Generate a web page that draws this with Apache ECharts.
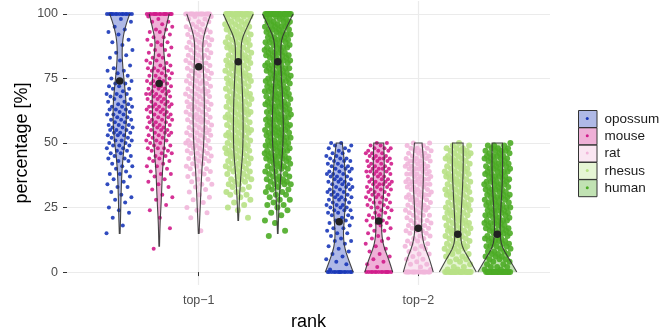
<!DOCTYPE html>
<html>
<head>
<meta charset="utf-8">
<script src="https://cdn.jsdelivr.net/npm/echarts@6/dist/echarts.min.js"></script>
<style>
  html, body { margin: 0; padding: 0; background: #fff; }
  #chart { width: 669px; height: 333px; }
</style>
</head>
<body>
<div id="chart"></div>
<script>
const ranks = ['top−1', 'top−2'];
const species = ['opossum', 'mouse', 'rat', 'rhesus', 'human'];
const yTicks = [0, 25, 50, 75, 100];

// mean percentage per species (the big dark dots)
const meanTop1 = [74, 73, 79.5, 81.5, 81.5];
const meanTop2 = [19.5, 19.8, 17, 14.7, 14.7];

// violin half-widths (density), read every 5 %; null = outside the data range
const levelsTop1 = [0, 5, 10, 15, 20, 25, 30, 35, 40, 45, 50, 55, 60, 65, 70, 75, 80, 85, 90, 95, 100];
const violinOpossum1 = [null, null, null, 0.4, 0.8, 1.1, 1.4, 1.8, 2.4, 3.5, 5, 6.2, 6.7, 6.5, 5.5, 4.2, 3, 2.3, 3, 5.5, 10];
const violinMouse1 = [null, null, 0.3, 0.6, 1, 1.7, 2.3, 2.8, 3.4, 4.5, 5.3, 6, 6.6, 7, 7, 6.8, 6, 4.6, 4, 7, 10];
const violinRat1 = [null, null, null, 0.4, 0.9, 1.5, 2, 2.6, 3.2, 4.2, 5, 5.5, 5.6, 5.6, 5.4, 5, 4.5, 4, 4.2, 7.5, 12];
const violinRhesus1 = [null, null, null, null, 0.3, 0.8, 1.4, 2.2, 3.1, 4.2, 4.7, 4.9, 4.8, 4.6, 4.1, 3.6, 3, 2.7, 3.3, 9, 15];
const violinHuman1 = [null, null, null, 0.3, 0.7, 1.2, 1.8, 2.6, 3.4, 4.4, 5.2, 5.6, 5.4, 5, 4.5, 3.7, 3.1, 3, 3.4, 9, 15.3];

const levelsTop2 = [0, 5, 10, 15, 20, 25, 30, 35, 40, 45, 50];
const violinOpossum2 = [14, 9, 5, 4, 5, 5.8, 6.5, 6.5, 5.8, 4.5, 3];
const violinMouse2 = [14, 10, 4.8, 2.8, 3, 3.8, 4.7, 5.4, 5.5, 5.4, 5];
const violinRat2 = [15, 11.5, 6, 3.6, 3.3, 3.8, 4.5, 5, 5.2, 5, 3.8];
const violinRhesus2 = [18.5, 11.5, 3.8, 2.7, 3, 3.7, 4.4, 5, 5.4, 5.5, 5.3];
const violinHuman2 = [19.5, 12, 4.2, 2.7, 3, 3.6, 4.4, 5, 5.3, 5.3, 5.2];

// individual percentages (estimated from the jittered clouds)
const opossumTop1 = [15,18,21,23,24,25,27,28,29,30,31,33,33,34,35,36,37,38,38,39,40,41,41,42,43,43,44,44,45,45,46,46,47,47,48,48,49,49,49,50,50,51,51,51,52,52,53,53,53,54,54,54,55,55,55,56,56,56,57,57,57,58,58,59,59,59,60,60,61,61,61,62,62,63,63,63,64,64,64,65,65,66,66,67,67,68,68,69,69,69,70,71,71,72,72,73,73,74,74,75,76,77,78,78,79,80,82,83,84,85,86,88,89,90,92,93,94,95,97,98,100,100,100,100,100,100,100,100,100,100,100,100,100,100];
const mouseTop1 = [9,17,21,24,26,28,29,30,32,33,34,35,36,37,38,38,39,40,41,41,42,43,43,44,44,45,45,46,46,47,47,48,48,48,49,49,50,50,51,51,51,52,52,53,53,53,54,54,54,55,55,55,56,56,56,57,57,57,58,58,58,59,59,59,60,60,60,61,61,61,62,62,62,63,63,63,64,64,64,64,65,65,65,66,66,66,67,67,67,68,68,68,69,69,69,69,70,70,70,71,71,71,72,72,72,73,73,73,74,74,74,75,75,76,76,76,77,77,78,78,78,79,79,79,80,80,81,81,82,82,83,83,84,84,85,86,86,87,88,88,89,89,90,91,91,92,93,93,94,94,95,96,97,97,98,99,100,100,100,100,100,100,100,100,100,100,100,100,100,100,100,100];
const ratTop1 = [16,21,23,24,25,27,28,29,30,31,32,33,34,34,35,36,36,37,38,38,39,39,40,40,41,41,42,42,43,43,44,44,44,45,45,46,46,46,47,47,48,48,48,49,49,49,50,50,50,51,51,51,52,52,53,53,53,54,54,54,55,55,55,56,56,56,57,57,58,58,58,59,59,59,60,60,60,61,61,61,62,62,63,63,63,64,64,64,65,65,65,66,66,66,67,67,68,68,68,69,69,69,70,70,70,71,71,71,72,72,73,73,73,74,74,74,75,75,76,76,76,77,77,78,78,78,79,79,79,80,80,81,81,81,82,82,83,83,83,84,84,84,85,85,86,86,86,87,87,88,88,88,89,89,89,90,90,91,91,91,92,92,93,93,93,94,94,94,95,95,96,96,97,97,98,98,99,99,100,100,100,100,100,100,100,100,100,100,100,100,100,100,100,100];
const rhesusTop1 = [21,24,25,26,27,28,29,30,30,31,31,32,33,33,34,34,35,35,36,36,36,37,37,38,38,39,39,39,40,40,40,41,41,42,42,42,43,43,44,44,44,45,45,45,46,46,46,47,47,47,48,48,48,49,49,49,50,50,50,51,51,51,52,52,52,53,53,53,54,54,54,55,55,55,56,56,56,57,57,57,58,58,58,59,59,59,60,60,60,61,61,61,62,62,62,63,63,63,64,64,64,65,65,65,66,66,66,67,67,67,68,68,68,69,69,69,70,70,70,71,71,71,72,72,72,73,73,73,74,74,74,75,75,75,76,76,76,77,77,77,78,78,78,79,79,79,80,80,80,81,81,81,82,82,82,83,83,83,84,84,84,85,85,85,86,86,86,87,87,87,88,88,88,89,89,89,90,90,90,91,91,91,92,92,92,93,93,93,94,94,94,95,95,95,96,96,96,97,97,97,98,98,99,99,99,100,100,100,100,100,100,100,100,100,100,100,100,100,100,100,100,100,100];
const humanTop1 = [14,16,19,20,22,23,24,25,26,26,27,28,28,29,30,30,31,31,32,32,33,33,34,34,34,35,35,35,36,36,36,37,37,37,38,38,39,39,40,40,40,41,41,41,42,42,42,43,43,43,44,44,44,44,45,45,45,45,46,46,46,47,47,47,47,48,48,48,49,49,49,49,50,50,50,50,51,51,51,52,52,52,52,53,53,53,54,54,54,54,55,55,55,55,56,56,56,57,57,57,57,58,58,58,59,59,59,59,60,60,60,60,61,61,61,62,62,62,62,63,63,63,64,64,64,64,65,65,65,65,66,66,66,67,67,67,67,68,68,68,69,69,69,69,70,70,70,70,71,71,71,72,72,72,72,73,73,73,74,74,74,74,75,75,75,75,76,76,76,77,77,77,77,78,78,78,79,79,79,79,80,80,80,80,81,81,81,82,82,82,82,83,83,83,84,84,84,84,85,85,85,85,86,86,86,87,87,87,87,88,88,88,89,89,89,89,90,90,90,90,91,91,91,92,92,92,92,93,93,93,94,94,94,94,95,95,95,95,96,96,96,97,97,97,97,98,98,98,99,99,99,100,100,100,100,100,100,100,100,100,100,100,100,100,100,100,100,100,100,100,100];

const opossumTop2 = [0,0,0,0,0,0,0,0,0,0,0,0,0,0,1,3,4,5,6,7,8,9,10,11,12,12,13,14,15,15,16,17,17,18,19,19,20,20,21,21,22,22,23,23,24,24,24,25,25,25,26,26,26,27,27,28,28,28,29,29,29,30,30,30,31,31,31,32,32,32,33,33,33,34,34,34,35,35,35,36,36,36,37,37,37,38,38,38,39,39,39,40,40,40,41,41,41,42,42,43,43,43,44,44,44,45,45,46,46,47,47,48,48,49,49,50,50];
const mouseTop2 = [0,0,0,0,0,0,0,0,0,0,0,0,0,0,2,3,4,5,6,7,8,9,10,11,12,13,13,14,15,16,16,17,18,18,19,19,20,20,21,21,22,22,23,23,24,24,25,25,25,26,26,27,27,27,28,28,29,29,29,30,30,30,31,31,31,32,32,32,33,33,33,34,34,34,34,35,35,35,35,36,36,36,37,37,37,38,38,38,39,39,39,39,40,40,40,40,41,41,41,42,42,42,43,43,43,44,44,44,44,45,45,45,46,46,46,47,47,47,48,48,48,49,49,50,50];
const ratTop2 = [0,0,0,0,0,0,0,0,0,0,0,0,0,0,0,0,1,2,3,3,4,5,5,6,7,7,8,9,9,10,10,11,11,12,12,13,13,14,14,15,15,16,16,16,17,17,18,18,18,19,19,20,20,20,21,21,22,22,22,23,23,24,24,24,25,25,25,26,26,26,27,27,27,28,28,28,29,29,29,30,30,30,30,31,31,31,32,32,32,33,33,33,34,34,34,34,35,35,35,35,36,36,36,36,37,37,37,38,38,38,38,39,39,39,40,40,40,40,41,41,41,41,42,42,42,43,43,43,43,44,44,44,45,45,45,46,46,46,47,47,47,48,48,48,49,49,50,50];
const rhesusTop2 = [0,0,0,0,0,0,0,0,0,0,0,0,0,0,0,0,0,0,1,1,2,2,3,4,4,5,5,6,6,7,7,8,8,9,9,9,10,10,10,11,11,11,12,12,13,13,13,14,14,14,15,15,15,16,16,16,17,17,17,18,18,18,19,19,19,20,20,20,21,21,21,22,22,22,23,23,23,24,24,24,25,25,25,26,26,26,27,27,27,28,28,28,29,29,29,30,30,30,31,31,31,32,32,32,33,33,33,34,34,34,35,35,35,36,36,36,37,37,37,38,38,38,39,39,39,40,40,40,41,41,41,42,42,42,43,43,43,44,44,44,45,45,45,46,46,46,47,47,47,48,48,48,49,49,50];
const humanTop2 = [0,0,0,0,0,0,0,0,0,0,0,0,0,0,0,0,0,0,0,0,1,1,2,2,2,3,3,4,4,5,5,5,6,6,6,7,7,7,8,8,8,9,9,10,10,10,10,11,11,11,12,12,12,12,13,13,13,14,14,14,15,15,15,15,16,16,16,17,17,17,17,18,18,18,19,19,19,19,20,20,20,20,21,21,21,22,22,22,22,23,23,23,24,24,24,24,25,25,25,25,26,26,26,27,27,27,27,28,28,28,29,29,29,29,30,30,30,30,31,31,31,32,32,32,32,33,33,33,34,34,34,34,35,35,35,35,36,36,36,37,37,37,37,38,38,38,39,39,39,39,40,40,40,40,41,41,41,42,42,42,42,43,43,43,44,44,44,44,45,45,45,45,46,46,46,47,47,47,47,48,48,48,49,49,49,50];

// styling
const pointColors = ['#1a37b8', '#d01c8b', '#f1b6da', '#b8e186', '#4dac26'];
const pointSizes = [4, 4, 5, 6, 6];
const FONT = '"Liberation Sans", Arial, Helvetica, sans-serif';
const DODGE = 0.18;              // offset between species within a rank
const JITTER = 0.06;             // half range of horizontal jitter
const VIOLIN_SCALE = 1 / 220;    // density units -> rank units
const PHI = 0.6180339887;

const violins1 = [violinOpossum1, violinMouse1, violinRat1, violinRhesus1, violinHuman1];
const violins2 = [violinOpossum2, violinMouse2, violinRat2, violinRhesus2, violinHuman2];
const pointsTop1 = [opossumTop1, mouseTop1, ratTop1, rhesusTop1, humanTop1];
const pointsTop2 = [opossumTop2, mouseTop2, ratTop2, rhesusTop2, humanTop2];

function hexToRgba(hex, a) {
  const n = parseInt(hex.slice(1), 16);
  return `rgba(${(n >> 16) & 255},${(n >> 8) & 255},${n & 255},${a})`;
}

// quadratic midpoint smoothing of one violin side (drawing only)
function smoothSide(pts) {
  if (pts.length < 3) return pts;
  const mid = (a, b) => [(a[0] + b[0]) / 2, (a[1] + b[1]) / 2];
  const out = [pts[0]];
  for (let i = 1; i < pts.length - 1; i++) {
    const p0 = i === 1 ? pts[0] : mid(pts[i - 1], pts[i]);
    const p2 = i === pts.length - 2 ? pts[pts.length - 1] : mid(pts[i], pts[i + 1]);
    const c = pts[i];
    for (let t = 0.25; t <= 1.001; t += 0.25) {
      const u = 1 - t;
      out.push([
        u * u * p0[0] + 2 * u * t * c[0] + t * t * p2[0],
        u * u * p0[1] + 2 * u * t * c[1] + t * t * p2[1],
      ]);
    }
  }
  return out;
}

// both sides of a violin, bottom -> top
function violinSides(xc, levels, widths) {
  const right = [];
  const left = [];
  levels.forEach((lv, k) => {
    if (widths[k] == null) return;
    right.push([xc + widths[k] * VIOLIN_SCALE, lv]);
    left.push([xc - widths[k] * VIOLIN_SCALE, lv]);
  });
  return { right: smoothSide(right), left: smoothSide(left) };
}

function sidesFor(s, r, xc) {
  return r === 0
    ? violinSides(xc, levelsTop1, violins1[s])
    : violinSides(xc, levelsTop2, violins2[s]);
}

function centerOf(rankIdx, s) {
  return rankIdx + 1 + (s - 2) * DODGE;
}

const chart = echarts.init(document.getElementById('chart'), null, { renderer: 'canvas' });

// violin bodies, under the points
const violinSeries = species.map((name, s) => ({
  name,
  type: 'custom',
  silent: true,
  z: 2,
  data: [[centerOf(0, s), 0], [centerOf(1, s), 1]],
  renderItem: (params, api) => {
    const { right, left } = sidesFor(s, api.value(1), api.value(0));
    const pts = right.concat(left.slice().reverse());
    return {
      type: 'polygon',
      shape: { points: pts.map((p) => api.coord(p)) },
      style: { fill: hexToRgba(pointColors[s], 0.35), stroke: null },
    };
  },
}));

// violin outlines over the points; the edge hidden by the 0/100 band is left open
const outlineSeries = species.map((name, s) => ({
  name,
  type: 'custom',
  silent: true,
  z: 4,
  data: [[centerOf(0, s), 0], [centerOf(1, s), 1]],
  renderItem: (params, api) => {
    const r = api.value(1);
    const { right, left } = sidesFor(s, r, api.value(0));
    const pts = r === 0
      ? right.slice().reverse().concat(left)
      : left.concat(right.slice().reverse());
    return {
      type: 'polyline',
      shape: { points: pts.map((p) => api.coord(p)) },
      style: { fill: null, stroke: '#333333', lineWidth: 1.1, opacity: 0.9 },
    };
  },
}));

const pointSeries = species.map((name, s) => {
  const data = [];
  [pointsTop1[s], pointsTop2[s]].forEach((vals, r) => {
    const xc = centerOf(r, s);
    vals.forEach((v, i) => {
      const j = ((i * PHI + s * 0.29 + r * 0.5) % 1) * 2 - 1;
      data.push([xc + j * JITTER, v]);
    });
  });
  return {
    name,
    type: 'scatter',
    silent: true,
    z: 3,
    symbol: 'circle',
    symbolSize: pointSizes[s],
    itemStyle: { color: pointColors[s], opacity: 0.9 },
    data,
  };
});

const meanSeries = {
  name: 'mean',
  type: 'scatter',
  silent: true,
  z: 5,
  symbolSize: 7.5,
  itemStyle: { color: '#222222', opacity: 1 },
  data: species.flatMap((_, s) => [
    [centerOf(0, s), meanTop1[s]],
    [centerOf(1, s), meanTop2[s]],
  ]),
};

const legendLeft = 578;
const legendTop = 110;
const legendRow = 17.3;
const legendBoxW = 18.5;
const legendBoxH = 17;

chart.setOption({
  animation: false,
  grid: { left: 67, right: 119, top: 1, bottom: 48, containLabel: false, outerBoundsMode: 'none' },
  xAxis: {
    type: 'value',
    min: 0.4,
    max: 2.6,
    name: 'rank',
    nameLocation: 'middle',
    nameGap: 28,
    nameMoveOverlap: false,
    nameTextStyle: { fontSize: 18, color: '#000', fontFamily: FONT },
    axisLine: { show: false },
    axisTick: { show: true, length: 4, customValues: [1, 2], lineStyle: { color: '#333', width: 1 } },
    axisLabel: {
      customValues: [1, 2],
      formatter: (v) => ranks[Math.round(v) - 1],
      fontSize: 12.5,
      color: '#4d4d4d',
      fontFamily: FONT,
      margin: 9,
    },
    splitLine: { show: true, lineStyle: { color: '#ebebeb', width: 1.2 } },
  },
  yAxis: {
    type: 'value',
    min: -5,
    max: 105,
    name: 'percentage [%]',
    nameLocation: 'middle',
    nameGap: 36,
    nameMoveOverlap: false,
    nameTextStyle: { fontSize: 18, color: '#000', fontFamily: FONT },
    axisLine: { show: false },
    axisTick: { show: true, length: 4, customValues: yTicks, lineStyle: { color: '#333', width: 1 } },
    axisLabel: {
      customValues: yTicks,
      fontSize: 12.5,
      color: '#4d4d4d',
      fontFamily: FONT,
      margin: 9,
    },
    splitLine: { show: true, lineStyle: { color: '#ebebeb', width: 1.2 } },
  },
  legend: {
    orient: 'vertical',
    left: legendLeft,
    top: legendTop,
    padding: 0,
    itemWidth: legendBoxW,
    itemHeight: legendBoxH,
    itemGap: legendRow - legendBoxH - 1,
    icon: 'rect',
    selectedMode: false,
    textStyle: {
      fontSize: 13.5,
      lineHeight: legendBoxH,
      padding: [0, 0, 0, 2.5],
      color: '#1a1a1a',
      fontFamily: FONT,
    },
    data: species.map((name, s) => ({
      name,
      itemStyle: { color: hexToRgba(pointColors[s], 0.35), borderColor: '#333', borderWidth: 1 },
    })),
  },
  graphic: species.map((_, s) => ({
    type: 'circle',
    z: 100,
    silent: true,
    shape: { cx: legendLeft + legendBoxW / 2, cy: legendTop + legendBoxH / 2 + s * legendRow, r: 1.5 },
    style: { fill: pointColors[s] },
  })),
  series: [...violinSeries, ...pointSeries, ...outlineSeries, meanSeries],
});
</script>
</body>
</html>
